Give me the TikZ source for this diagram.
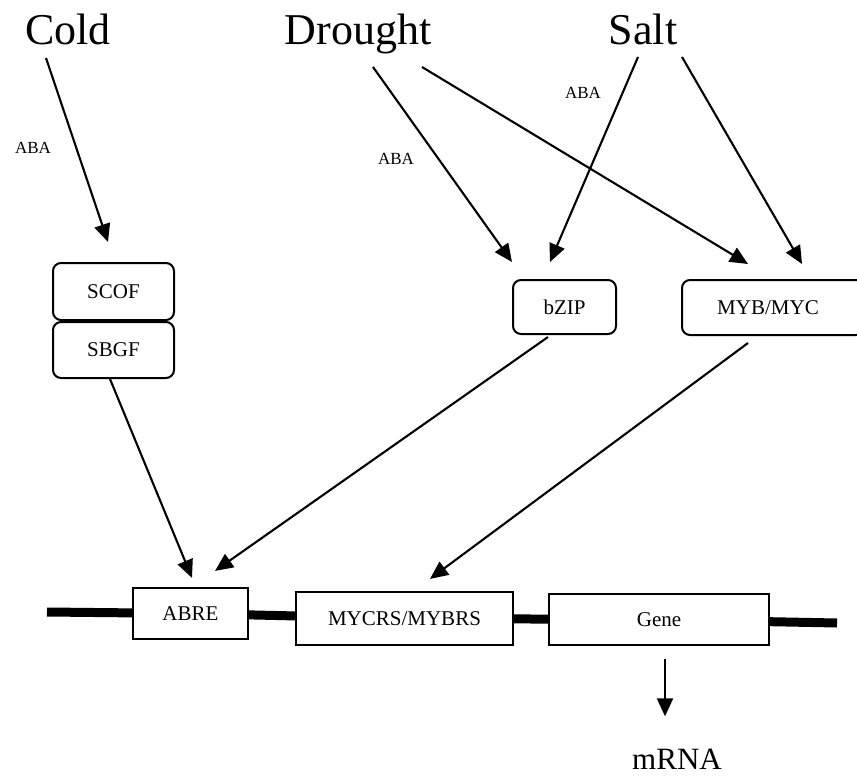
\documentclass[tikz,border=0pt]{standalone}
\usepackage{fontspec}
\setmainfont{Liberation Serif}
\usetikzlibrary{arrows.meta,calc}
\begin{document}
\begin{tikzpicture}[x=1pt,y=-1pt,
  title/.style={inner sep=0pt, anchor=base, font=\fontsize{44}{50}\selectfont},
  aba/.style={inner sep=0pt, font=\fontsize{17}{20}\selectfont},
  tfbox/.style={draw, line width=2pt, rounded corners=8pt, fill=white, inner sep=0pt, font=\fontsize{21}{24}\selectfont},
  elem/.style={draw, line width=2.2pt, fill=white, inner sep=0pt, font=\fontsize{21}{24}\selectfont},
  arr/.style={line width=2.1pt, -{Triangle[length=18pt,width=16pt]}},
  dna/.style={line width=9pt}]
\useasboundingbox (0,0) rectangle (857,776);
\clip (0,0) rectangle (857,776);

% stress titles
\node[title] (cold) at (68,45) {Cold};
\node[title] (drought) at (358,45) {Drought};
\node[title] (salt) at (643,45) {Salt};

% ABA labels
\node[aba] (aba1) at (33,148) {ABA};
\node[aba] (aba2) at (396,159) {ABA};
\node[aba] (aba3) at (583,93) {ABA};

% transcription factors
\node[tfbox, minimum width=121pt, minimum height=57pt] (scof) at (113.5,291.5) {SCOF};
\node[tfbox, minimum width=121pt, minimum height=56pt] (sbgf) at (113.5,350) {SBGF};
\node[tfbox, minimum width=103pt, minimum height=54pt] (bzip) at (564.5,307) {bZIP};
\node[tfbox, minimum width=182pt, minimum height=55pt] (myb) at (773,307.5) {\hspace*{-10pt}MYB/MYC};

% DNA line and elements
\coordinate (dl) at (47,612);
\coordinate (dr) at (837,623);
\node[elem, minimum width=115pt, minimum height=51pt] (abre) at (190.5,613.5) {ABRE};
\node[elem, minimum width=217pt, minimum height=53pt] (mycrs) at (404.5,618.5) {MYCRS/MYBRS};
\node[elem, minimum width=220pt, minimum height=51pt] (gene) at (659,619.5) {Gene};
\draw[dna] (dl) -- (abre);
\draw[dna] (abre) -- (mycrs);
\draw[dna] (mycrs) -- (gene);
\draw[dna] (gene) -- (dr);

\node[inner sep=0pt, anchor=base, font=\fontsize{31}{36}\selectfont] (mrna) at (677,769) {mRNA};

% arrows
\draw[arr] ($(cold.base)+(-22,13)$) -- ($(scof.north)+(-5.5,-20)$);
\draw[arr] ($(drought.base)+(15,22)$) -- ($(bzip.north)+(-52.5,-17)$);
\draw[arr] ($(drought.base)+(64,22)$) -- ($(myb.north)+(-25,-15)$);
\draw[arr] ($(salt.base)+(-5,12)$) -- ($(bzip.north)+(-14.5,-17)$);
\draw[arr] ($(salt.base)+(39,12)$) -- ($(myb.north)+(29,-15)$);
\draw[arr] ($(sbgf.south)+(-3.5,0)$) -- ($(abre.north)+(1.5,-9)$);
\draw[arr] ($(bzip.south)+(-16.5,2)$) -- ($(abre.north)+(24.5,-16)$);
\draw[arr] ($(myb.south)+(-25,7)$) -- ($(mycrs.north)+(25.5,-12)$);
\draw[arr] ($(gene.south)+(6,13)$) -- ($(mrna.north)+(-12,-32)$);
\end{tikzpicture}
\end{document}
